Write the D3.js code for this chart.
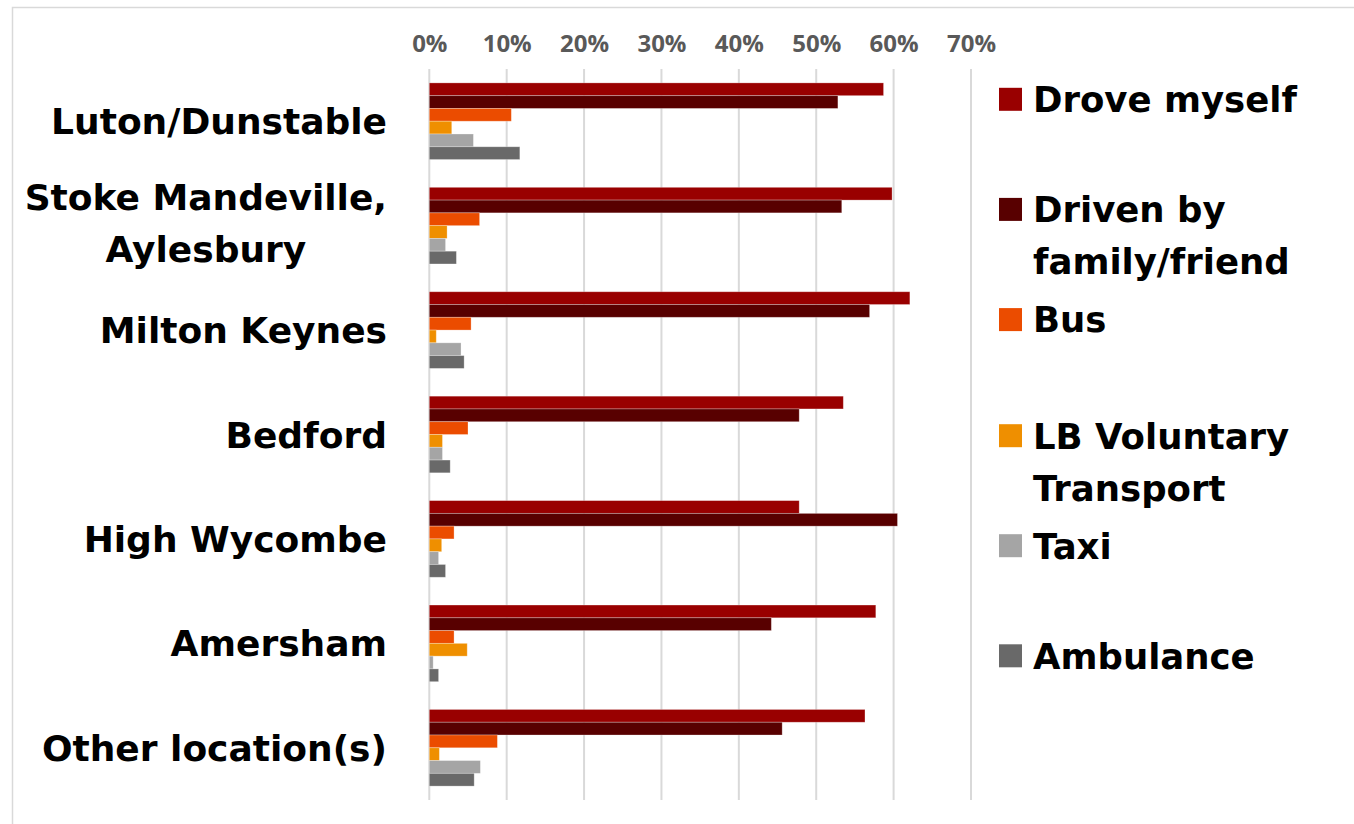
<!DOCTYPE html>
<html>
<head>
<meta charset="utf-8">
<script src="https://cdn.jsdelivr.net/npm/d3@7"></script>
<style>
body { margin: 0; background: #fff; }
text { font-family: "DejaVu Sans", sans-serif; font-weight: bold; }
</style>
</head>
<body>
<script>
// data (percent)
var locations = ["Luton/Dunstable", "Stoke Mandeville,\nAylesbury", "Milton Keynes", "Bedford", "High Wycombe", "Amersham", "Other location(s)"];
var modes = ["Drove myself", "Driven by\nfamily/friend", "Bus", "LB Voluntary\nTransport", "Taxi", "Ambulance"];
var droveMyself = [58.7, 59.8, 62.1, 53.5, 47.8, 57.7, 56.3];
var drivenByFamily = [52.8, 53.3, 56.9, 47.8, 60.5, 44.2, 45.6];
var bus = [10.6, 6.5, 5.4, 5.0, 3.2, 3.2, 8.8];
var lbVoluntary = [2.9, 2.3, 0.9, 1.7, 1.6, 4.9, 1.3];
var taxi = [5.7, 2.1, 4.1, 1.7, 1.2, 0.5, 6.6];
var ambulance = [11.7, 3.5, 4.5, 2.7, 2.1, 1.2, 5.8];
var tickValues = [0, 10, 20, 30, 40, 50, 60, 70];
var modeColors = ["#990000", "#580000", "#eb4c00", "#ef8f00", "#a5a5a5", "#696969"];

var seriesValues = [droveMyself, drivenByFamily, bus, lbVoluntary, taxi, ambulance];

var W = 1354, H = 824;
var plot = {left: 429.3, right: 971, top: 69, bottom: 800};

var svg = d3.select("body").append("svg")
    .attr("width", W)
    .attr("height", H);

// outer frame
svg.append("rect")
    .attr("x", 12.5).attr("y", 7.5)
    .attr("width", W + 20).attr("height", H + 20)
    .attr("fill", "none")
    .attr("stroke", "#d9d9d9")
    .attr("stroke-width", 1.5);

var x = d3.scaleLinear().domain([0, 70]).range([plot.left, plot.right]);
var y = d3.scaleBand().domain(locations).range([plot.top, plot.bottom])
    .paddingInner(0.266).paddingOuter(0.133);
var yInner = d3.scaleBand().domain(modes).range([0, y.bandwidth()]);

// gridlines
svg.append("g").selectAll("line")
    .data(tickValues)
    .enter().append("line")
    .attr("x1", function (d) { return x(d); })
    .attr("x2", function (d) { return x(d); })
    .attr("y1", plot.top).attr("y2", plot.bottom)
    .attr("stroke", "#d9d9d9")
    .attr("stroke-width", 2);

// top axis labels
var xAxis = d3.axisTop(x).tickValues(tickValues).tickSize(0)
    .tickFormat(function (d) { return d + "%"; });
var ax = svg.append("g")
    .attr("transform", "translate(0,52)")
    .call(xAxis);
ax.select(".domain").remove();
ax.selectAll("text")
    .attr("dy", 0)
    .attr("y", 0)
    .style("font-family", "\"Open Sans\", sans-serif")
    .style("font-weight", "bold")
    .style("font-size", "24px")
    .attr("fill", "#595959");

// bars
var groups = svg.append("g").selectAll("g")
    .data(locations)
    .enter().append("g")
    .attr("transform", function (d) { return "translate(0," + y(d) + ")"; });

groups.each(function (loc, li) {
    d3.select(this).selectAll("rect")
        .data(modes)
        .enter().append("rect")
        .attr("x", x(0))
        .attr("y", function (m) { return yInner(m); })
        .attr("width", function (m, mi) { return x(seriesValues[mi][li]) - x(0); })
        .attr("height", yInner.bandwidth())
        .attr("fill", function (m, mi) { return modeColors[mi]; })
        .attr("stroke", "#fff")
        .attr("stroke-opacity", 0.35)
        .attr("stroke-width", 0.8);
});

// category labels (multi-line ones are centred, block right aligned)
var labelRight = 387, lineH = 52;
locations.forEach(function (loc) {
    var lines = loc.split("\n");
    var cy = y(loc) + y.bandwidth() / 2;
    var t = svg.append("text")
        .attr("font-size", 36)
        .attr("fill", "#000")
        .attr("text-anchor", lines.length > 1 ? "middle" : "end");
    var first = cy - (lines.length - 1) * lineH / 2 + 13 - (lines.length > 1 ? 3 : 0);
    lines.forEach(function (l, i) {
        t.append("tspan").attr("y", first + i * lineH).text(l);
    });
    if (lines.length > 1) {
        var maxW = 0;
        t.selectAll("tspan").each(function () { maxW = Math.max(maxW, this.getComputedTextLength()); });
        t.selectAll("tspan").attr("x", labelRight - maxW / 2);
    } else {
        t.selectAll("tspan").attr("x", labelRight);
    }
});

// legend
var legendY = [99.3, 209.4, 319.6, 435.7, 545.7, 655.8];
var legend = svg.append("g");
modes.forEach(function (m, i) {
    legend.append("rect")
        .attr("x", 999).attr("y", legendY[i] - 11.5)
        .attr("width", 23).attr("height", 23)
        .attr("fill", modeColors[i]);
    var t = legend.append("text")
        .attr("font-size", 35.5)
        .attr("fill", "#000");
    m.split("\n").forEach(function (l, j) {
        t.append("tspan").attr("x", 1033).attr("y", legendY[i] + 12.8 + j * lineH).text(l);
    });
});
</script>
</body>
</html>
